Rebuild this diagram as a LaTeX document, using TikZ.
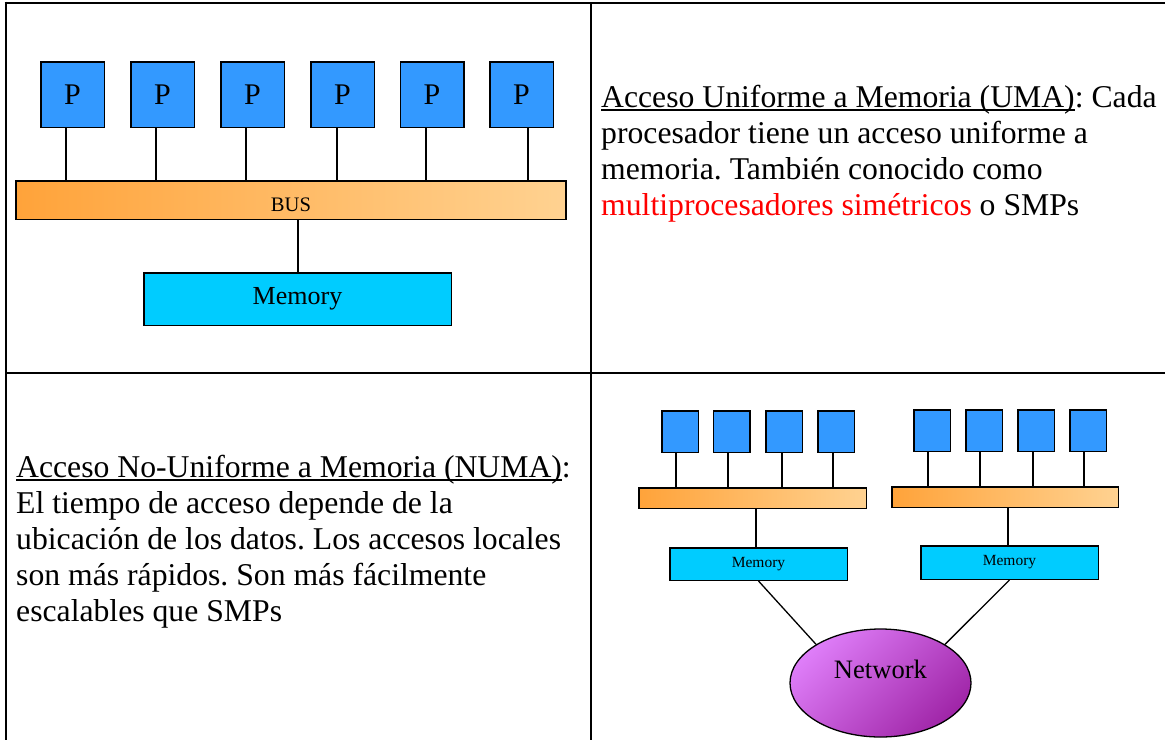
\documentclass[tikz,border=0pt]{standalone}
\usepackage{fontspec}
\setmainfont{Liberation Serif}
\usetikzlibrary{shapes.geometric}
\frenchspacing

\definecolor{procblue}{RGB}{51,153,255}
\definecolor{memcyan}{RGB}{0,204,255}
\definecolor{busdark}{RGB}{255,163,58}
\definecolor{buslight}{RGB}{255,210,145}
\definecolor{netlight}{RGB}{222,125,248}
\definecolor{netdark}{RGB}{160,38,168}

% underline that sits just below the baseline
\newcommand{\ulin}[1]{\setbox0=\hbox{#1}\rlap{\rule[-4pt]{\wd0}{1.6pt}}\box0}

\begin{document}
\begin{tikzpicture}[x=1pt, y=-1pt,
    proc/.style={draw, line width=1.5pt, fill=procblue, inner sep=0pt},
    busbar/.style={draw, line width=1.5pt, left color=busdark, right color=buslight, inner sep=0pt},
    mem/.style={draw, line width=1.5pt, fill=memcyan, inner sep=0pt},
    wire/.style={line width=1.3pt},
    rulebox/.style={line width=2.6pt},
    txt/.style={anchor=base west, inner sep=0pt, font=\fontsize{31.7}{36}\selectfont}]
    \useasboundingbox (0,0) rectangle (1165,740);

    % Table rules
    \draw[rulebox] (4.7,3) -- (1165,3);
    \draw[rulebox] (6,1.7) -- (6,740);
    \draw[rulebox] (591,3) -- (591,740);
    \draw[rulebox] (6,373) -- (1165,373);

    % UMA: shared bus and one memory
    \node[busbar, minimum width=550pt, minimum height=38.5pt] (bus) at (291,200) {};
    \node[anchor=base, inner sep=0pt, font=\fontsize{20.6}{21}\selectfont] (buslabel) at (291,211) {BUS};
    \node[mem, minimum width=307.5pt, minimum height=52.5pt, font=\fontsize{26}{26}\selectfont]
        (mem) at (297.5,299) {Memory};
    \draw[wire] (bus.south -| 298,0) -- (mem.north -| 298,0);

    \foreach \i/\cx/\lx in {1/72.5/66, 2/162.5/156, 3/252.5/246, 4/342.5/337, 5/432/426, 6/521.5/528} {
        \node[proc, minimum width=63.5pt, minimum height=65.5pt, font=\fontsize{30}{30}\selectfont]
            (p\i) at (\cx,94.5) {P};
        \draw[wire] (p\i.south -| \lx,0) -- (bus.north -| \lx,0);
    }

    \node[txt] (uma1) at (601,107) {\ulin{Acceso Uniforme a Memoria (UMA)}: Cada};
    \node[txt] (uma2) at (601,143) {procesador tiene un acceso uniforme a};
    \node[txt] (uma3) at (601,179) {memoria. También conocido como};
    \node[txt] (uma4) at (601,215) {\textcolor{red}{multiprocesadores simétricos} o SMPs};

    % NUMA: two nodes joined by a network
    \node[txt] (numa1) at (16,477) {\ulin{Acceso No-Uniforme a Memoria (NUMA)}:};
    \node[txt] (numa2) at (16,513) {El tiempo de acceso depende de la};
    \node[txt] (numa3) at (16,549) {ubicación de los datos. Los accesos locales};
    \node[txt] (numa4) at (16,585) {son más rápidos. Son más fácilmente};
    \node[txt] (numa5) at (16,621) {escalables que SMPs};

    \node[busbar, minimum width=227.5pt, minimum height=20.5pt] (busa) at (752.5,498) {};
    \node[busbar, minimum width=226.5pt, minimum height=20.5pt] (busb) at (1005,497) {};
    \node[mem, minimum width=177.5pt, minimum height=32.5pt, font=\fontsize{15.5}{16}\selectfont]
        (mema) at (758.5,564) {Memory};
    \node[mem, minimum width=177.5pt, minimum height=33.5pt, font=\fontsize{15.5}{16}\selectfont]
        (memb) at (1009.5,562.5) {Memory};
    \draw[wire] (busa.south -| 756,0) -- (mema.north -| 756,0);
    \draw[wire] (busb.south -| 1008,0) -- (memb.north -| 1008,0);

    \foreach \i/\cx/\lx in {1/680/676, 2/731.5/728, 3/784/782, 4/836/833} {
        \node[proc, minimum width=36.5pt, minimum height=41.5pt] (a\i) at (\cx,431.5) {};
        \draw[wire] (a\i.south -| \lx,0) -- (busa.north -| \lx,0);
    }
    \foreach \i/\cx/\lx in {1/932/928, 2/984/980, 3/1036/1033, 4/1088/1084} {
        \node[proc, minimum width=36.5pt, minimum height=41.5pt] (b\i) at (\cx,430.5) {};
        \draw[wire] (b\i.south -| \lx,0) -- (busb.north -| \lx,0);
    }

    \node[ellipse, draw, line width=1.3pt, inner sep=0pt, minimum width=181pt, minimum height=108pt,
        top color=netlight, bottom color=netdark, shading angle=45,
        font=\fontsize{26.6}{27}\selectfont, text height=18pt, text depth=28pt]
        (net) at (880.5,683) {Network};
    \draw[wire] (mema.south) -- (net.north west);
    \draw[wire] (memb.south) -- (net.north east);
\end{tikzpicture}
\end{document}
